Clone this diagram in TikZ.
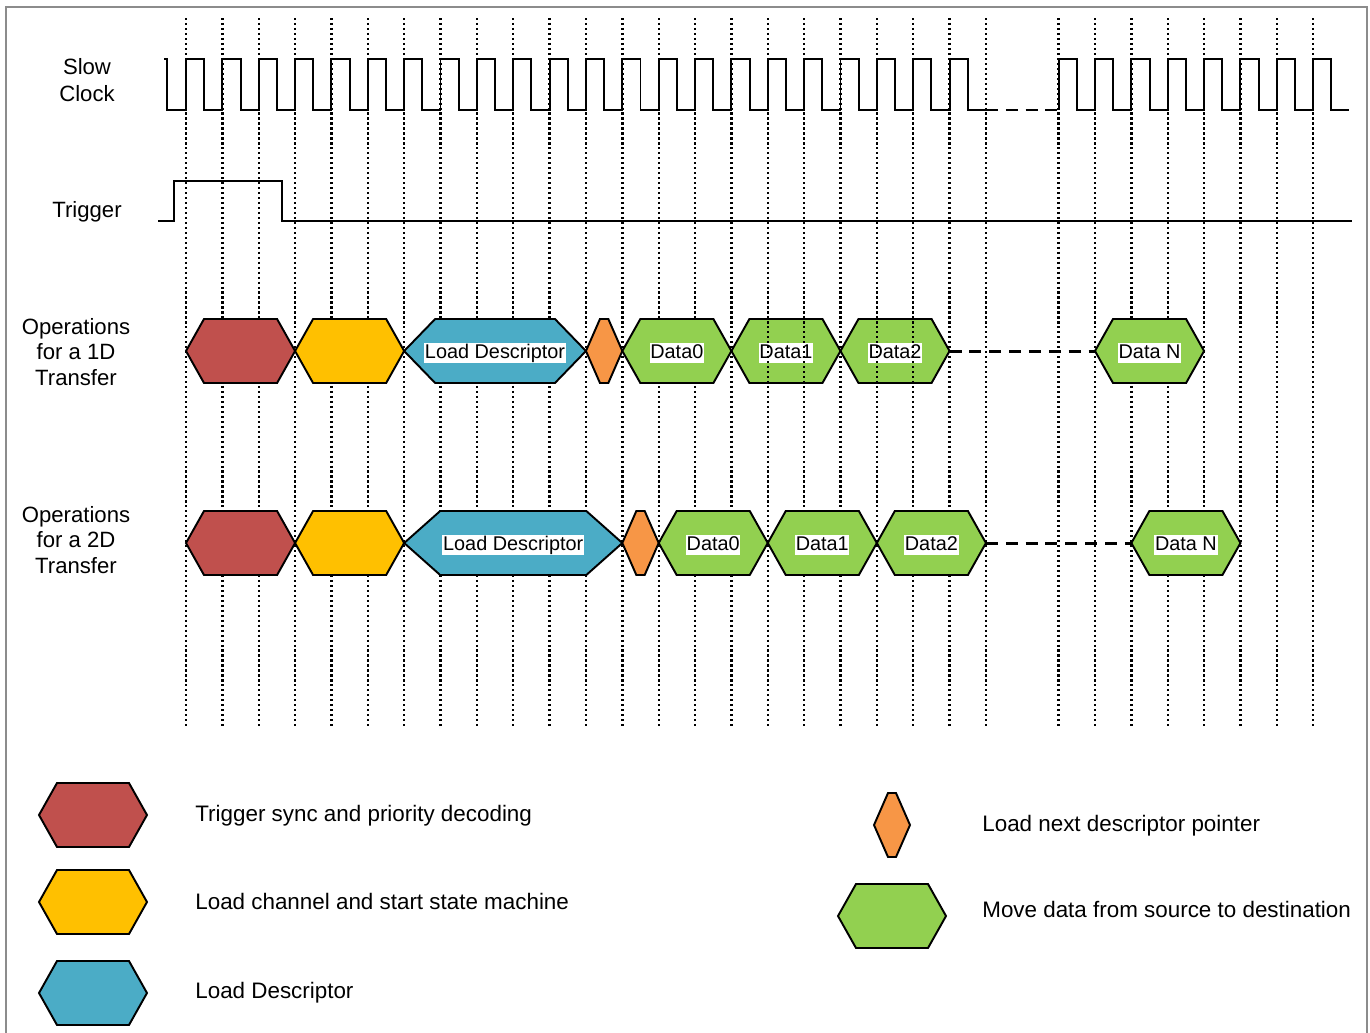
\documentclass[tikz,border=0pt]{standalone}
\usepackage{fontspec}
\setmainfont{Liberation Sans}
\definecolor{syncred}{HTML}{C0504D}
\definecolor{chanyellow}{HTML}{FFC000}
\definecolor{descblue}{HTML}{4BACC6}
\definecolor{ptrorange}{HTML}{F79646}
\definecolor{datagreen}{HTML}{92D050}
\definecolor{framegray}{HTML}{8C8C8C}
% x position of the k-th rising clock edge
\newcommand{\X}[1]{186+36.36*#1}
% hexagon: name, left tip x, right tip x, slant, centre y, fill, text
\newcommand{\hexagonbox}[7]{%
  \draw[hexline, fill=#6] ({#2},#5) -- ({#2+#4},{#5-32}) -- ({#3-#4},{#5-32})
    -- ({#3},#5) -- ({#3-#4},{#5+32}) -- ({#2+#4},{#5+32}) -- cycle;
  \coordinate (#1-w) at ({#2},#5);
  \coordinate (#1-e) at ({#3},#5);
  \if\relax\detokenize{#7}\relax
    \coordinate (#1) at ({(#2+#3)/2},#5);
  \else
    \node[hexlabel] (#1) at ({(#2+#3)/2},#5) {#7};
  \fi
}
\begin{document}
\begin{tikzpicture}[x=0.02cm,y=-0.02cm,
  wave/.style={line width=1.1pt, line join=miter},
  gap/.style={line width=1.7pt, dash pattern=on 6.8pt off 4.5pt},
  gridline/.style={line width=1.35pt, dash pattern=on 1.25pt off 1.58pt},
  hexline/.style={draw=black, line width=1.1pt, line join=miter},
  hexlabel/.style={fill=white, inner xsep=0.4pt, inner ysep=0.6pt, yshift=-1.2pt,
    text height=0.78em, text depth=0.22em, font=\fontsize{11.3}{13}\selectfont},
  siglabel/.style={align=center, inner sep=0pt},
  legendtext/.style={anchor=west, inner sep=0pt, yshift=-1.7pt, text height=0.75em,
    text depth=0.22em, font=\fontsize{12.75}{15}\selectfont}
]
\useasboundingbox (0,0) rectangle (1370,1032);
\fill[white] (0,0) rectangle (1370,1032);
\draw[framegray, line width=1.2pt] (6,1045) -- (6,7) -- (1367,7) -- (1367,1045);

% 1D data phases that sit beneath the clock grid
\hexagonbox{oa-d1}{\X{15}}{\X{18}}{18}{351}{datagreen}{Data1}
\hexagonbox{oa-d2}{\X{18}}{\X{21}}{18}{351}{datagreen}{Data2}

% clock edge grid
\foreach \k in {0,...,22,24,25,...,31}
  \draw[gridline] ({\X{\k}},18) -- ({\X{\k}},726);

% slow clock
\draw[wave] (164,59) -- (167,59) -- (167,110)
  \foreach \k in {0,...,21} {
    -- ({\X{\k}},110) -- ({\X{\k}},59) -- ({\X{\k}+18.18},59) -- ({\X{\k}+18.18},110)
  } -- ({\X{22}},110);
\draw[gap] ({\X{22}},110) -- ({\X{24}},110);
\draw[wave] ({\X{24}},110)
  \foreach \k in {24,...,31} {
    -- ({\X{\k}},110) -- ({\X{\k}},59) -- ({\X{\k}+18.18},59) -- ({\X{\k}+18.18},110)
  } -- (1349,110);

% trigger
\draw[wave] (158,221) -- (174,221) -- (174,181) -- (282,181) -- (282,221) -- (1352,221);

% operations for a 1D transfer
\hexagonbox{oa-sync}{\X{0}}{\X{3}}{18}{351}{syncred}{}
\hexagonbox{oa-chan}{\X{3}}{\X{6}}{18}{351}{chanyellow}{}
\hexagonbox{oa-desc}{\X{6}}{\X{11}}{31}{351}{descblue}{Load Descriptor}
\hexagonbox{oa-ptr}{\X{11}}{\X{12}}{14}{351}{ptrorange}{}
\hexagonbox{oa-d0}{\X{12}}{\X{15}}{18}{351}{datagreen}{Data0}
\hexagonbox{oa-dn}{\X{25}}{\X{28}}{18}{351}{datagreen}{Data N}
\draw[gap] (oa-d2-e) -- (oa-dn-w);

% operations for a 2D transfer
\hexagonbox{ob-sync}{\X{0}}{\X{3}}{18}{543}{syncred}{}
\hexagonbox{ob-chan}{\X{3}}{\X{6}}{18}{543}{chanyellow}{}
\hexagonbox{ob-desc}{\X{6}}{\X{12}}{36}{543}{descblue}{Load Descriptor}
\hexagonbox{ob-ptr}{\X{12}}{\X{13}}{14}{543}{ptrorange}{}
\hexagonbox{ob-d0}{\X{13}}{\X{16}}{18}{543}{datagreen}{Data0}
\hexagonbox{ob-d1}{\X{16}}{\X{19}}{18}{543}{datagreen}{Data1}
\hexagonbox{ob-d2}{\X{19}}{\X{22}}{18}{543}{datagreen}{Data2}
\hexagonbox{ob-dn}{\X{26}}{\X{29}}{18}{543}{datagreen}{Data N}
\draw[gap] (ob-d2-e) -- (ob-dn-w);

% signal names
\node[siglabel, font=\fontsize{12.6}{15.3}\selectfont] (lbl-clk) at (87,80) {Slow\\Clock};
\node[siglabel, font=\fontsize{12.6}{15.3}\selectfont] (lbl-trg) at (87,212) {Trigger};
\node[siglabel, font=\fontsize{12.6}{14.7}\selectfont] (lbl-1d) at (76,352) {Operations\\for a 1D\\Transfer};
\node[siglabel, font=\fontsize{12.6}{14.7}\selectfont] (lbl-2d) at (76,540) {Operations\\for a 2D\\Transfer};

% legend
\hexagonbox{lg-sync}{39}{147}{18}{815}{syncred}{}
\hexagonbox{lg-chan}{39}{147}{18}{902}{chanyellow}{}
\hexagonbox{lg-desc}{39}{147}{18}{993}{descblue}{}
\hexagonbox{lg-ptr}{874}{910}{14}{825}{ptrorange}{}
\hexagonbox{lg-data}{838}{946}{18}{916}{datagreen}{}
\node[legendtext] (lt-sync) at (195,814) {Trigger sync and priority decoding};
\node[legendtext] (lt-chan) at (195,902) {Load channel and start state machine};
\node[legendtext] (lt-desc) at (195,991) {Load Descriptor};
\node[legendtext] (lt-ptr) at (982,824) {Load next descriptor pointer};
\node[legendtext] (lt-data) at (982,910) {Move data from source to destination};
\end{tikzpicture}
\end{document}
